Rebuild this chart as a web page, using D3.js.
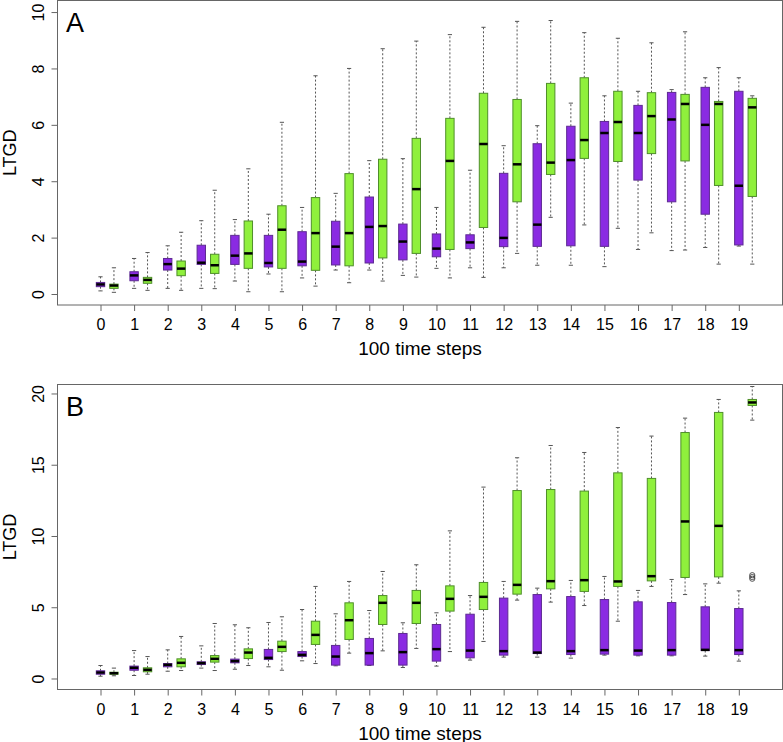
<!DOCTYPE html>
<html><head><meta charset="utf-8">
<script src="https://cdn.jsdelivr.net/npm/d3@7"></script>
<style>body{margin:0;background:#fff}svg{display:block}text{font-family:"Liberation Sans",Arial,Helvetica,sans-serif}</style>
</head><body><svg id="c" width="783" height="742"></svg>
<script>
const categories = d3.range(20);
const xTickLabels = categories.map(String);
const yTicksA = [0, 2, 4, 6, 8, 10];
const yTicksB = [0, 5, 10, 15, 20];

// Panel A, purple series
const aPurpleLow  = [0.11,0.20,0.20,0.20,0.46,0.71,0.57,0.85,0.85,0.66,0.91,0.93,0.93,1.02,1.02,0.97,1.58,1.54,1.65,1.70];
const aPurpleQ1   = [0.26,0.47,0.85,1.05,1.05,0.96,1.00,1.03,1.10,1.21,1.32,1.61,1.68,1.69,1.71,1.69,4.04,3.27,2.83,1.74];
const aPurpleMed  = [0.34,0.66,1.06,1.11,1.36,1.10,1.15,1.68,2.38,1.86,1.61,1.83,1.99,2.46,4.75,5.71,5.71,6.19,6.00,3.84];
const aPurpleQ3   = [0.41,0.79,1.26,1.73,2.08,2.08,2.21,2.58,3.44,2.48,2.13,2.10,4.28,5.33,5.95,6.12,6.69,7.15,7.33,7.19];
const aPurpleHigh = [0.61,1.26,1.71,2.60,2.64,2.83,3.07,3.57,4.73,4.80,3.07,4.39,5.26,5.97,6.77,7.03,7.19,7.25,7.67,7.67];
// Panel A, green series
const aGreenLow  = [0.06,0.13,0.13,0.19,0.08,0.08,0.28,0.40,0.46,0.60,0.57,0.59,1.44,2.72,2.45,2.33,2.17,1.56,1.06,1.06];
const aGreenQ1   = [0.20,0.38,0.65,0.73,0.91,0.91,0.84,1.00,1.28,1.44,1.58,2.36,3.27,4.24,4.81,4.70,4.98,4.72,3.85,3.46];
const aGreenMed  = [0.30,0.50,0.90,1.02,1.44,2.28,2.16,2.16,2.41,3.72,4.72,5.32,4.60,4.66,5.46,6.10,6.31,6.74,6.74,6.62];
const aGreenQ3   = [0.35,0.59,1.17,1.41,2.59,3.13,3.42,4.27,4.78,5.52,6.23,7.12,6.90,7.47,7.67,7.19,7.14,7.08,6.83,6.94];
const aGreenHigh = [0.93,1.47,2.19,3.68,4.44,6.09,7.74,8.00,8.70,8.97,9.20,9.46,9.67,9.70,9.27,9.07,8.91,9.30,8.03,7.03];
// Panel B, purple series
const bPurpleLow  = [0.16,0.21,0.51,0.73,0.65,0.82,1.24,0.89,0.91,0.77,0.87,1.29,1.50,1.50,1.43,1.64,1.59,1.59,1.57,1.22];
const bPurpleQ1   = [0.30,0.58,0.82,0.98,1.10,1.33,1.54,0.94,0.94,0.94,1.22,1.45,1.64,1.75,1.68,1.71,1.64,1.64,1.96,1.68];
const bPurpleMed  = [0.42,0.75,0.96,1.08,1.22,1.45,1.66,1.54,1.78,1.85,2.06,1.96,1.92,1.82,1.92,1.99,1.96,1.99,2.01,1.99];
const bPurpleQ3   = [0.54,0.87,1.05,1.17,1.36,2.04,1.89,2.32,2.81,3.16,3.79,4.51,5.64,5.89,5.75,5.54,5.38,5.33,5.03,4.91];
const bPurpleHigh = [0.91,1.96,2.01,2.29,3.77,3.93,4.84,4.54,4.77,3.91,4.61,5.82,6.81,6.34,6.88,7.16,6.18,6.95,6.64,6.15];
// Panel B, green series
const bGreenLow  = [0.19,0.30,0.56,0.56,0.91,0.58,1.05,1.78,1.94,2.11,1.89,2.60,5.50,5.36,5.12,4.02,6.46,5.89,6.69,18.13];
const bGreenQ1   = [0.30,0.47,0.82,1.15,1.40,1.89,2.39,2.74,3.79,3.86,4.73,4.84,5.92,6.29,6.11,6.46,6.85,7.09,7.13,19.16];
const bGreenMed  = [0.37,0.61,1.10,1.38,1.82,2.22,3.06,4.09,5.31,5.31,5.59,5.73,6.57,6.83,6.90,6.81,7.18,11.02,10.71,19.37];
const bGreenQ3   = [0.44,0.75,1.38,1.61,2.08,2.62,4.02,5.31,5.82,6.18,6.50,6.74,13.19,13.26,13.15,14.43,14.04,17.26,18.67,19.58];
const bGreenHigh = [0.73,1.54,2.95,3.86,3.56,4.33,6.46,6.81,7.51,7.98,10.36,13.43,15.49,16.35,15.86,17.61,17.01,18.27,19.58,20.49];
const bGreenOutlierCat = [19, 19, 19];
const bGreenOutlierVal = [7.25, 7.12, 7.00];

const PURPLE = "#8a2be2", PURPLE_EDGE = "#5e2a93";
const GREEN = "#8ff03c", GREEN_EDGE = "#4f8f2a";
const FRAME = "#666";

const svg = d3.select("#c");

function series(low, q1, med, q3, high) {
  return categories.map((c, i) => ({c, low: low[i], q1: q1[i], med: med[i], q3: q3[i], high: high[i]}));
}

function panel(opt) {
  const x = d3.scaleLinear().domain([-1.28, 20.3]).range([57.5, 782.5]);
  const y = d3.scaleLinear().domain(opt.yDomain).range([opt.bottom, opt.top]);
  const g = svg.append("g");
  const bw = x(0.125) - x(0);

  // axes
  const xAxis = d3.axisBottom(x).tickValues(categories).tickFormat((d, i) => xTickLabels[i]).tickSize(6).tickPadding(4);
  const gx = g.append("g").attr("transform", `translate(0,${opt.bottom})`).call(xAxis);
  gx.select(".domain").remove();
  gx.selectAll("line").attr("stroke", FRAME);
  gx.selectAll("text").attr("font-size", 16).attr("fill", "#000").attr("dy", "0.95em");

  const yAxis = d3.axisLeft(y).tickValues(opt.yTicks).tickSize(6).tickPadding(0);
  const gy = g.append("g").attr("transform", `translate(57.5,0)`).call(yAxis);
  gy.select(".domain").remove();
  gy.selectAll("line").attr("stroke", FRAME);
  gy.selectAll("text").attr("font-size", 16).attr("fill", "#000")
    .attr("text-anchor", "middle").attr("x", 0).attr("dy", 0)
    .attr("transform", d => `translate(-14,0) rotate(-90)`);

  function drawSeries(data, offset, fill, edge) {
    const gg = g.append("g");
    const cx = d => x(d.c + offset);
    // whiskers
    gg.selectAll(".wu").data(data).join("line")
      .attr("x1", cx).attr("x2", cx).attr("y1", d => y(d.q3)).attr("y2", d => y(d.high))
      .attr("stroke", "#555").attr("stroke-width", 1).attr("stroke-dasharray", "2,2");
    gg.selectAll(".wl").data(data).join("line")
      .attr("x1", cx).attr("x2", cx).attr("y1", d => y(d.q1)).attr("y2", d => y(d.low))
      .attr("stroke", "#555").attr("stroke-width", 1).attr("stroke-dasharray", "2,2");
    // caps
    ["high", "low"].forEach(k => {
      gg.selectAll(".cap" + k).data(data).join("line")
        .attr("x1", d => cx(d) - bw / 2).attr("x2", d => cx(d) + bw / 2)
        .attr("y1", d => y(d[k])).attr("y2", d => y(d[k]))
        .attr("stroke", "#555").attr("stroke-width", 1);
    });
    // boxes
    gg.selectAll("rect").data(data).join("rect")
      .attr("x", d => cx(d) - bw).attr("width", 2 * bw)
      .attr("y", d => y(d.q3)).attr("height", d => Math.max(1, y(d.q1) - y(d.q3)))
      .attr("fill", fill).attr("stroke", edge).attr("stroke-width", 1);
    // medians
    gg.selectAll(".med").data(data).join("line")
      .attr("x1", d => cx(d) - bw).attr("x2", d => cx(d) + bw)
      .attr("y1", d => y(d.med)).attr("y2", d => y(d.med))
      .attr("stroke", "#000").attr("stroke-width", 2.5);
  }
  drawSeries(opt.purple, 0, PURPLE, PURPLE_EDGE);
  drawSeries(opt.green, 0.4, GREEN, GREEN_EDGE);

  if (opt.outCat) {
    g.selectAll(".out").data(opt.outCat.map((c, i) => ({c, v: opt.outVal[i]}))).join("circle")
      .attr("cx", d => x(d.c + 0.4)).attr("cy", d => y(d.v)).attr("r", 2.6)
      .attr("fill", "none").attr("stroke", "#444").attr("stroke-width", 0.9);
  }

  // frame
  g.append("rect").attr("x", 57.5).attr("y", opt.top).attr("width", 725).attr("height", opt.bottom - opt.top)
    .attr("fill", "none").attr("stroke", FRAME).attr("stroke-width", 1);

  // labels
  g.append("text").attr("x", 66).attr("y", opt.top + 31).attr("font-size", 27).text(opt.letter);
  g.append("text").attr("x", 420).attr("y", opt.bottom + 50).attr("font-size", 19)
    .attr("text-anchor", "middle").text("100 time steps");
  g.append("text").attr("transform", `translate(15.5,${(opt.top + opt.bottom) / 2}) rotate(-90)`)
    .attr("font-size", 18).attr("text-anchor", "middle").text("LTGD");
}

panel({
  top: 0.5, bottom: 305, yDomain: [-0.39, 10.41], yTicks: yTicksA, letter: "A",
  purple: series(aPurpleLow, aPurpleQ1, aPurpleMed, aPurpleQ3, aPurpleHigh),
  green: series(aGreenLow, aGreenQ1, aGreenMed, aGreenQ3, aGreenHigh)
});
panel({
  top: 384.5, bottom: 689.5, yDomain: [-0.772, 20.63], yTicks: yTicksB, letter: "B",
  purple: series(bPurpleLow, bPurpleQ1, bPurpleMed, bPurpleQ3, bPurpleHigh),
  green: series(bGreenLow, bGreenQ1, bGreenMed, bGreenQ3, bGreenHigh),
  outCat: bGreenOutlierCat, outVal: bGreenOutlierVal
});
</script></body></html>
